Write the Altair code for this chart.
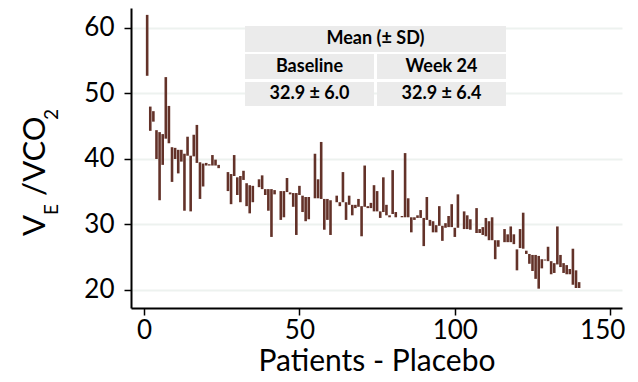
import altair as alt
import pandas as pd

# ---- data (patient index, value at start / end of bar) ----
patients = [1, 2, 3, 4, 5, 6, 7, 8, 9, 10, 11, 12, 13, 14, 15, 16, 17, 18, 19, 20,
            21, 22, 23, 24, 27, 28, 29, 30, 31, 32, 33, 34, 35, 37, 38, 39, 40, 41, 42, 44,
            45, 46, 47, 48, 49, 50, 51, 52, 53, 55, 56, 57, 58, 59, 60, 62, 63, 64, 65, 66,
            67, 68, 69, 70, 71, 72, 73, 74, 75, 76, 77, 78, 79, 80, 81, 83, 84, 85, 86, 87,
            88, 89, 90, 91, 92, 93, 94, 95, 96, 97, 98, 99, 100, 101, 103, 104, 105, 107, 108, 109,
            110, 111, 112, 113, 114, 116, 117, 118, 119, 120, 121, 122, 123, 124, 125, 126, 127, 128, 129, 130,
            131, 132, 133, 134, 135, 136, 137, 138, 139, 140]
start_vals = [62.0, 48.0, 47.3, 44.4, 44.1, 43.8, 52.5, 48.1, 41.8, 41.7, 41.4, 41.4, 40.8, 43.4, 40.5, 43.7, 45.2, 39.5, 39.3, 39.4,
              39.2, 40.6, 39.9, 39.1, 38.0, 37.7, 40.6, 37.2, 37.4, 38.2, 36.3, 36.0, 35.9, 36.9, 37.5, 35.4, 35.4, 35.4, 35.25, 35.1,
              35.1, 37.1, 34.9, 34.8, 34.8, 35.9, 34.4, 34.2, 34.2, 40.8, 36.9, 42.6, 33.9, 33.9, 33.7, 34.4, 33.4, 38.0, 33.4, 34.4,
              33.0, 33.0, 33.9, 32.8, 39.0, 32.8, 33.3, 36.0, 35.1, 32.0, 37.2, 33.0, 31.4, 38.3, 31.9, 31.3, 40.9, 34.0, 31.1, 31.1,
              31.4, 32.2, 31.0, 34.2, 30.7, 30.5, 29.9, 32.8, 29.8, 30.2, 31.3, 33.1, 29.5, 34.6, 32.0, 31.4, 30.8, 32.5, 29.3, 29.6,
              31.0, 30.5, 31.1, 27.6, 27.6, 29.3, 28.5, 29.7, 28.5, 26.2, 29.3, 31.8, 26.0, 25.5, 25.35, 25.35, 25.2, 24.7, 24.65, 26.6,
              24.4, 24.1, 29.7, 25.35, 24.1, 23.8, 23.2, 26.3, 23.0, 21.2]
end_vals = [52.7, 44.3, 45.7, 40.0, 33.7, 39.1, 43.1, 42.4, 36.5, 40.0, 37.8, 39.6, 32.1, 40.5, 32.0, 40.4, 39.4, 33.9, 35.8, 39.0,
            39.0, 39.0, 39.0, 38.6, 35.1, 33.1, 37.4, 34.5, 33.4, 36.8, 32.8, 31.7, 33.4, 35.7, 35.4, 34.5, 32.1, 28.1, 34.6, 30.7,
            31.1, 34.95, 34.6, 32.7, 28.4, 34.5, 31.9, 30.5, 30.8, 34.0, 34.0, 33.9, 29.2, 30.7, 28.4, 33.4, 32.8, 33.4, 30.7, 33.0,
            31.4, 32.5, 32.7, 28.2, 32.7, 32.5, 32.5, 32.0, 32.0, 31.0, 31.9, 31.4, 31.1, 31.6, 31.1, 31.1, 31.1, 31.1, 28.8, 30.7,
            31.0, 31.0, 26.7, 30.7, 29.8, 28.8, 28.8, 29.8, 27.5, 29.5, 29.6, 29.6, 28.1, 29.5, 29.3, 29.3, 29.2, 28.7, 28.7, 28.4,
            28.2, 27.6, 27.6, 24.7, 26.6, 27.3, 27.3, 27.3, 27.0, 23.0, 26.4, 26.3, 25.5, 24.0, 22.9, 21.7, 20.2, 23.3, 24.5, 24.4,
            22.4, 22.6, 23.9, 23.5, 22.6, 22.4, 22.4, 20.8, 20.3, 20.3]

x_ticks = [0, 50, 100, 150]
y_ticks = [20, 30, 40, 50, 60]
x_title = "Patients - Placebo"

table_header = "Mean (± SD)"
table_cols = ["Baseline", "Week 24"]
table_vals = ["32.9 ± 6.0", "32.9 ± 6.4"]

df = pd.DataFrame({"patient": patients, "start": start_vals, "end": end_vals})

# ---- layout / style ----
W, H = 491, 300
FONT = "Lato"
BAR = "#633229"
CELL = "#EBEBEB"
one = alt.Data(values=[{}])

bars = alt.Chart(df).mark_rule(strokeWidth=2.6, color=BAR).encode(
    x=alt.X("patient:Q",
            scale=alt.Scale(domain=[-4.2, 153.8], nice=False, zero=False),
            axis=alt.Axis(values=x_ticks, format="d", title=x_title, grid=False,
                          domainColor="black", domainWidth=2, tickColor="black",
                          tickWidth=1.5, tickSize=7, labelPadding=2,
                          labelOffset=alt.expr("datum.value == 150 ? -8 : 0"),
                          labelFont=FONT, labelFontSize=26, labelColor="black",
                          titleFont=FONT, titleFontSize=30, titleFontWeight="normal",
                          titleColor="black", titlePadding=3)),
    y=alt.Y("start:Q",
            scale=alt.Scale(domain=[17.25, 63.05], nice=False, zero=False),
            axis=alt.Axis(values=y_ticks, format="d", title=None, grid=True,
                          gridColor="#EDF2EF", gridWidth=2,
                          domainColor="black", domainWidth=2, tickColor="black",
                          tickWidth=1.5, tickSize=7, labelPadding=10,
                          labelFont=FONT, labelFontSize=26, labelColor="black")),
    y2="end:Q",
)

layers = [bars]

# table cells (pixel positions inside the plot area)
cells = [(114, 375, 18, 44), (114, 243, 46, 71), (246, 375, 46, 71),
         (114, 243, 74, 98), (246, 375, 74, 98)]
for x0, x1, y0, y1 in cells:
    layers.append(alt.Chart(one).mark_rect(color=CELL).encode(
        x=alt.value(x0), x2=alt.value(x1), y=alt.value(y0), y2=alt.value(y1)))

texts = [(table_header, 244.5, 31), (table_cols[0], 178.5, 58.5), (table_cols[1], 310.5, 58.5),
         (table_vals[0], 178.5, 86), (table_vals[1], 310.5, 86)]
for t, tx, ty in texts:
    layers.append(alt.Chart(one).mark_text(
        text=t, font=FONT, fontSize=18, fontWeight="bold", color="black",
        align="center", baseline="middle").encode(x=alt.value(tx), y=alt.value(ty)))

# y-axis title with subscripts, built from pieces (plot-area pixel frame)
ytitle = [("V", -86, 228, 31), ("E", -73, 207, 19), ("/VCO", -86, 188, 31), ("2", -73, 112, 19)]
for t, tx, ty, fs in ytitle:
    layers.append(alt.Chart(one).mark_text(
        text=t, font=FONT, fontSize=fs, color="black", angle=270,
        align="left", baseline="alphabetic").encode(x=alt.value(tx), y=alt.value(ty)))

chart = alt.layer(*layers).properties(
    width=W, height=H,
    autosize=alt.AutoSizeParams(type="none"),
    padding={"left": 123, "top": 0, "right": 8, "bottom": 64},
    background="white",
).configure_view(stroke=None)

chart.save("out.html", embed_options={"renderer": "svg", "actions": False})
